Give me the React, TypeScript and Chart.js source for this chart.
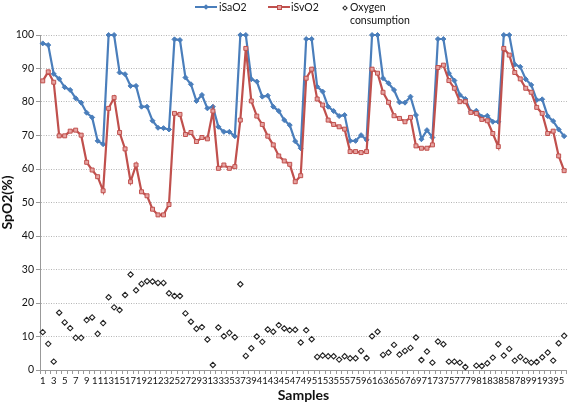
import React, { useEffect, useRef } from 'react';
import { Chart, registerables } from 'chart.js';
Chart.register(...registerables);

const samples: string[] = Array.from({ length: 96 }, (_, i) => String(i + 1));

const iSaO2: number[] = [
  97.5, 97, 88.4, 86.9, 84.4, 83.6, 81.1, 79.8, 76.8, 75.4, 68.4, 67.4,
  100, 100, 88.8, 88.3, 84.8, 84.8, 78.6, 78.6, 74.4, 72.3, 72.2, 71.8,
  98.7, 98.5, 87.3, 85.3, 80.3, 82.1, 78.1, 78.6, 72.6, 71.1, 71.1, 69.8,
  100, 100, 86.8, 86.1, 81.6, 81.9, 78.6, 77.3, 74.6, 73.1, 68.3, 66.2,
  98.8, 98.8, 84.6, 83.1, 78.6, 77.3, 75.8, 76.1, 68.4, 68.4, 70.1, 68.7,
  100, 100, 87.1, 85.6, 83.6, 79.9, 79.8, 81.6, 76.1, 68.9, 71.6, 69.4,
  98.8, 98.8, 88.6, 86.4, 82.1, 80.9, 77.1, 77.4, 75.6, 75.9, 74.1, 74.1,
  100, 100, 91.2, 90.5, 86.8, 85.1, 80.6, 80.8, 75.8, 74.3, 71.8, 69.8,
];

const iSvO2: number[] = [
  86.3, 89, 85.9, 69.9, 69.9, 71.3, 71.6, 70.1, 62, 59.7, 57.7, 53.5,
  78.1, 81.3, 70.9, 66, 56.2, 61.2, 53.2, 52, 48, 46.3, 46.3, 49.4,
  76.6, 76.3, 70.3, 70.9, 68.2, 69.4, 69, 77.3, 60.2, 61.2, 60.2, 60.7,
  74.6, 96, 80.3, 75.8, 73.3, 69.8, 67.2, 63.9, 62.4, 61.4, 56.2, 58,
  87.1, 89.8, 80.9, 79.1, 74.6, 73.3, 72.6, 71.9, 65.2, 65.2, 64.9, 65.2,
  89.8, 88.6, 82.9, 79.9, 75.9, 75.1, 74.1, 75.4, 66.9, 66.2, 66.2, 67.2,
  90.3, 91, 86.4, 84.1, 80.1, 80.1, 76.9, 76.6, 74.8, 74.4, 70.6, 66.7,
  96, 94, 88.8, 86.9, 84.1, 82.9, 78.4, 76.6, 70.6, 71.3, 63.9, 59.5,
];

const oxygenConsumption: (number | null)[] = [
  11.3, 7.8, 2.5, 17.1, 14.2, 12.5, 9.6, 9.6, 14.9, 15.7, 10.8, 14,
  21.7, 18.7, 17.9, 22.4, 28.5, 23.8, 25.7, 26.5, 26.4, 26, 26, 22.9,
  22.1, 22.1, 16.9, 14.4, 12.3, 12.8, 9.1, 1.5, 12.7, 10.1, 11.1, 9.8,
  25.6, 4.2, 6.5, 10, 8.4, 12.1, 11.4, 13.4, 12.4, 11.9, 12, 8.2,
  11.9, 9.2, 3.9, 4.3, 4.1, 4.1, 3.1, 4.1, 3.5, 3.5, 5.7, 3.6,
  10.1, 11.4, 4.5, 5.2, 7.5, 4.6, 5.7, 6.6, 9.7, 3, 5.5, 2.2,
  8.5, 7.7, 2.5, 2.5, 2.2, 0.9, null, 1.3, 1.2, 2, 3.7, 7.7,
  4.3, 6.3, 2.8, 3.9, 2.8, 2.2, 2.4, 3.8, 5.2, 2.8, 8, 10.2,
];

const BLUE = '#4a7ebb';
const RED = '#c0504d';
const RED_FILL = '#e6a3a1';
const FONT = 'Lato, "Open Sans", sans-serif';

export default function App() {
  const ref = useRef<HTMLCanvasElement>(null);

  useEffect(() => {
    const chart = new Chart(ref.current as HTMLCanvasElement, {
      type: 'line',
      data: {
        labels: samples,
        datasets: [
          {
            label: 'Oxygen consumption',
            data: oxygenConsumption,
            showLine: false,
            pointStyle: 'rectRot',
            pointRadius: 2.7,
            pointBackgroundColor: '#ffffff',
            pointBorderColor: '#222222',
            pointBorderWidth: 1.1,
            borderColor: '#222222',
            backgroundColor: '#ffffff',
            order: 0,
            clip: false,
          } as any,
          {
            label: 'iSvO2',
            data: iSvO2,
            borderColor: RED,
            borderWidth: 2.2,
            backgroundColor: RED_FILL,
            pointStyle: 'rect',
            pointRadius: 2.8,
            pointBackgroundColor: RED_FILL,
            pointBorderColor: RED,
            pointBorderWidth: 1,
            tension: 0,
            order: 1,
            clip: false,
          } as any,
          {
            label: 'iSaO2',
            data: iSaO2,
            borderColor: BLUE,
            borderWidth: 2.2,
            backgroundColor: BLUE,
            pointStyle: 'rectRot',
            pointRadius: 2.5,
            pointBackgroundColor: BLUE,
            pointBorderColor: BLUE,
            pointBorderWidth: 1,
            tension: 0,
            order: 2,
            clip: false,
          } as any,
        ],
      },
      options: {
        responsive: false,
        animation: false,
        devicePixelRatio: 1,
        layout: { padding: { top: 35, right: 2, left: 0, bottom: 0 } },
        plugins: {
          legend: { display: false },
          tooltip: { enabled: false },
        },
        scales: {
          x: {
            type: 'category',
            offset: true,
            grid: {
              display: true,
              drawOnChartArea: false,
              drawTicks: true,
              tickLength: 4,
              offset: true,
              color: '#999999',
            },
            border: { display: true, color: '#999999', width: 1 },
            ticks: {
              autoSkip: false,
              maxRotation: 0,
              minRotation: 0,
              padding: 1,
              color: '#111111',
              font: { family: FONT, size: 9.5 },
              callback: (_v: any, i: number) => (i % 2 === 0 ? samples[i] : ''),
            },
            title: {
              display: true,
              text: 'Samples',
              color: '#111111',
              font: { family: FONT, size: 14, weight: 'bold' },
              padding: { top: 0, bottom: 0 },
            },
            afterFit: (s: any) => {
              s.height = 34;
            },
          } as any,
          y: {
            min: 0,
            max: 100,
            ticks: {
              stepSize: 10,
              padding: 2,
              color: '#111111',
              font: { family: FONT, size: 10.5 },
            },
            grid: { color: '#b5b5b5', tickLength: 4, tickColor: '#999999' },
            border: { color: '#999999', dash: [1, 1.5] },
            title: {
              display: true,
              text: 'SpO2(%)',
              color: '#111111',
              font: { family: FONT, size: 14, weight: 'bold' },
              padding: { top: -1, bottom: 0 },
            },
            afterFit: (s: any) => {
              s.width = 40;
            },
          } as any,
        },
      },
    });
    return () => chart.destroy();
  }, []);

  const legendText: React.CSSProperties = {
    position: 'absolute',
    fontFamily: FONT,
    fontSize: 10.5,
    lineHeight: '12px',
    color: '#111111',
    whiteSpace: 'nowrap',
  };

  return (
    <div style={{ position: 'fixed', left: 0, top: 0, width: 572, height: 404, background: '#ffffff' }}>
      <canvas ref={ref} width={572} height={404} style={{ position: 'absolute', left: 0, top: 0 }} />
      <div style={{ position: 'absolute', left: 195, top: 6, width: 22, height: 2, background: BLUE }} />
      <div style={{ position: 'absolute', left: 204, top: 5, width: 4, height: 4, background: BLUE, transform: 'rotate(45deg)' }} />
      <span style={{ ...legendText, left: 219, top: 1 }}>iSaO2</span>
      <div style={{ position: 'absolute', left: 268, top: 6, width: 22, height: 2, background: RED }} />
      <div style={{ position: 'absolute', left: 276.5, top: 4.5, width: 5, height: 5, boxSizing: 'border-box', background: RED_FILL, border: `1px solid ${RED}` }} />
      <span style={{ ...legendText, left: 291, top: 1 }}>iSvO2</span>
      <div style={{ position: 'absolute', left: 343, top: 5.5, width: 4, height: 4, boxSizing: 'border-box', background: '#fff', border: '1px solid #222', transform: 'rotate(45deg)' }} />
      <span style={{ ...legendText, left: 350, top: 1 }}>Oxygen</span>
      <span style={{ ...legendText, left: 350, top: 13.5 }}>consumption</span>
    </div>
  );
}
